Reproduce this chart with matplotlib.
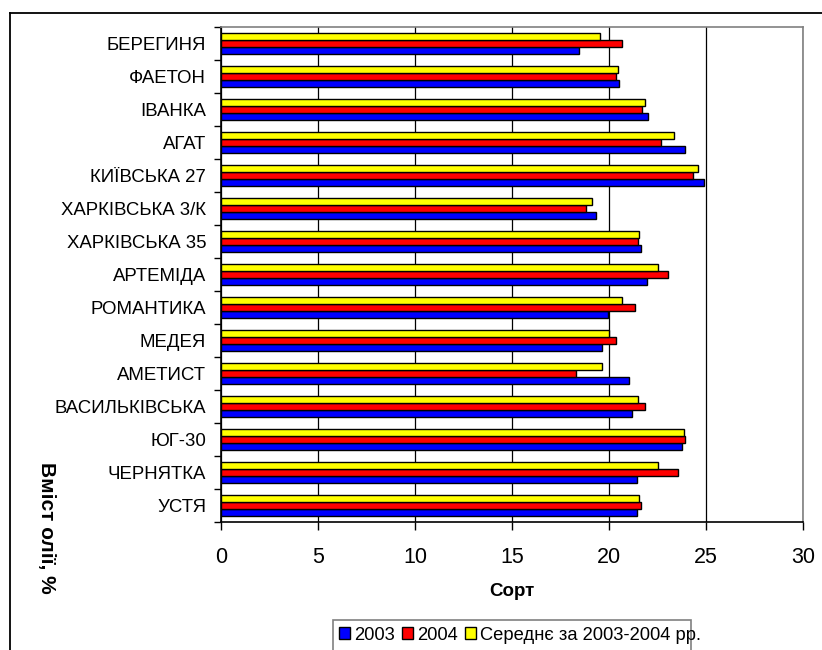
import matplotlib.pyplot as plt
import numpy as np
from matplotlib.lines import Line2D
from matplotlib.patches import Rectangle

plt.rcParams['font.family'] = ['Liberation Sans', 'DejaVu Sans']

# Varieties, listed top to bottom
varieties = ['БЕРЕГИНЯ', 'ФАЕТОН', 'ІВАНКА', 'АГАТ', 'КИЇВСЬКА 27',
             'ХАРКІВСЬКА 3/К', 'ХАРКІВСЬКА 35', 'АРТЕМІДА', 'РОМАНТИКА',
             'МЕДЕЯ', 'АМЕТИСТ', 'ВАСИЛЬКІВСЬКА', 'ЮГ-30', 'ЧЕРНЯТКА', 'УСТЯ']

oil_2003 = [18.45, 20.5, 22.0, 23.9, 24.9, 19.3, 21.65, 21.95, 19.95,
            19.65, 21.0, 21.2, 23.75, 21.45, 21.45]
oil_2004 = [20.65, 20.35, 21.7, 22.7, 24.35, 18.8, 21.5, 23.05, 21.35,
            20.35, 18.3, 21.85, 23.9, 23.55, 21.65]
oil_mean = [19.55, 20.45, 21.85, 23.35, 24.6, 19.1, 21.55, 22.5, 20.65,
            20.0, 19.65, 21.5, 23.85, 22.5, 21.55]

series_names = ['2003', '2004', 'Середнє за 2003-2004 рр.']
colors = ['#0000FF', '#FF0000', '#FFFF00']

W, H = 822, 650
fig = plt.figure(figsize=(W / 100, H / 100), dpi=100)
ax = fig.add_axes([221.4 / W, 1 - 522 / H, (803 - 221.4) / W, (522 - 27) / H])

n = len(varieties)
pos = np.arange(n)[::-1]  # first variety on top
bh = 0.22
for k, (vals, c, lab) in enumerate(zip([oil_2003, oil_2004, oil_mean], colors, series_names)):
    ax.barh(pos + (k - 1) * bh, vals, height=bh, color=c, edgecolor='black',
            linewidth=1.0, label=lab, zorder=3)

ax.set_xlim(0, 30)
ax.set_ylim(-0.5, n - 0.5)
ax.set_xticks(np.arange(0, 31, 5))
ax.tick_params(axis='x', labelsize=15.5, length=6, width=1, direction='out', pad=12)
ax.xaxis.grid(True, color='black', linewidth=0.9, zorder=0)
ax.set_axisbelow(True)

# category boundaries carry the tick marks, names sit between them
ax.set_yticks(np.arange(-0.5, n, 1.0))
ax.set_yticklabels([])
ax.set_yticks(pos, minor=True)
ax.set_yticklabels(varieties, minor=True)
ax.tick_params(axis='y', which='major', length=5, width=1)
ax.tick_params(axis='y', which='minor', length=0, labelsize=13.4, pad=11)

for s in ['top', 'right']:
    ax.spines[s].set_color('#808080')
    ax.spines[s].set_linewidth(1.2)
for s in ['left', 'bottom']:
    ax.spines[s].set_color('black')
    ax.spines[s].set_linewidth(1.2)

ax.set_xlabel('Сорт', fontsize=13.5, fontweight='bold', labelpad=11)
fig.text(46.5 / W, 1 - 528 / H, 'Вміст олії, %', rotation=270, fontsize=15,
         fontweight='bold', ha='center', va='center')

# legend along the bottom edge, its frame cut off by the figure border
handles = [Rectangle((0, 0), 1, 1, facecolor=c, edgecolor='black', linewidth=1)
           for c in colors]
fig.legend(handles, series_names, loc='center left',
           bbox_to_anchor=(339 / W, 1 - 635 / H), ncol=3, frameon=False,
           fontsize=13.2, handlelength=0.6, handleheight=0.6,
           handletextpad=0.25, columnspacing=0.35, borderpad=0, borderaxespad=0)
fig.add_artist(Rectangle((333 / W, 1 - 662 / H), (691 - 333) / W, 42 / H,
                         transform=fig.transFigure, fill=False,
                         edgecolor='#808080', linewidth=1.2))

# outer chart frame, left and top edges
fig.add_artist(Line2D([10 / W, 10 / W], [0, 1 - 13 / H], transform=fig.transFigure,
                      color='black', linewidth=1.3))
fig.add_artist(Line2D([10 / W, 1], [1 - 13 / H, 1 - 13 / H], transform=fig.transFigure,
                      color='black', linewidth=1.3))

fig.savefig('out.png', dpi=100)
